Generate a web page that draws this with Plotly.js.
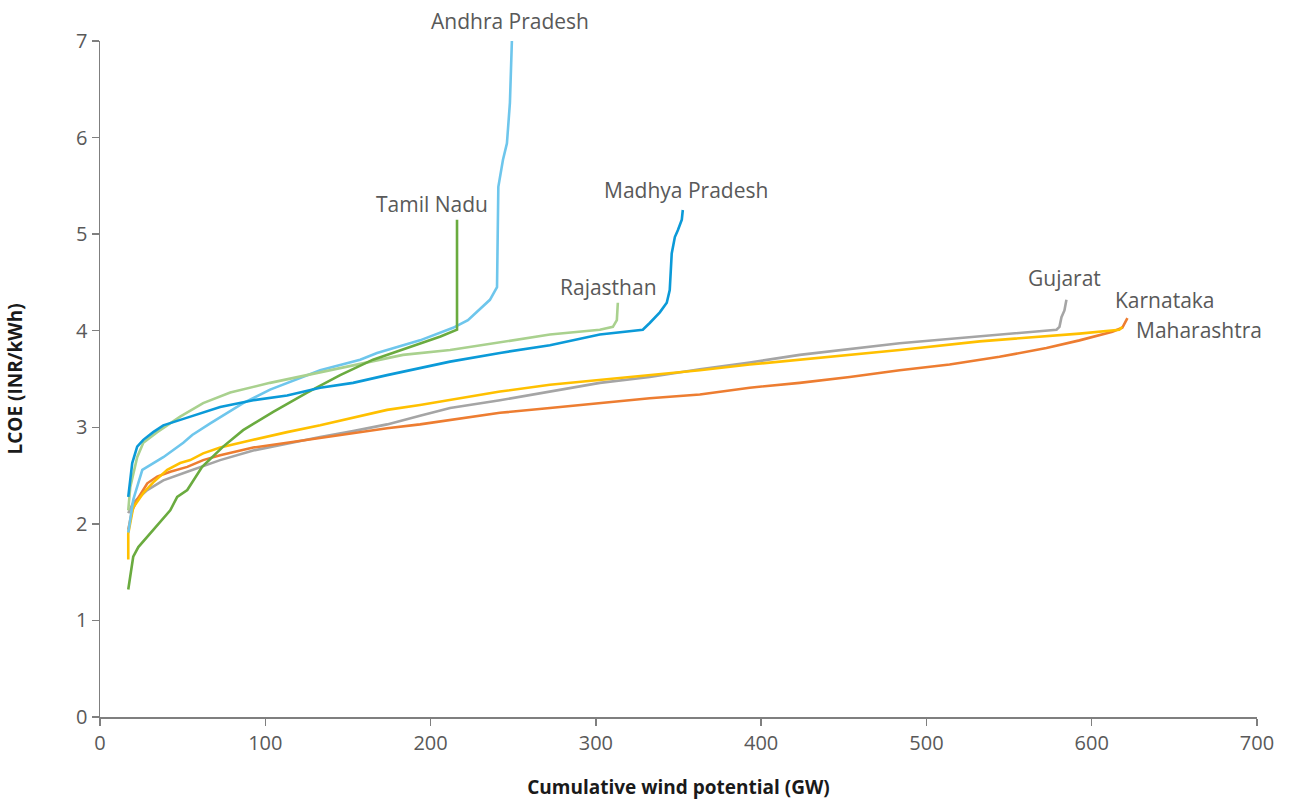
<!DOCTYPE html>
<html>
<head>
<meta charset="utf-8">
<script src="https://cdn.plot.ly/plotly-3.0.1.min.js"></script>
<style>html,body{margin:0;padding:0;background:#fff;}#chart{width:1291px;height:800px;}</style>
</head>
<body>
<div id="chart"></div>
<script>
// Cumulative wind potential (GW) and LCOE (INR/kWh)
const gujaratX = [17.1, 20.1, 28.6, 38.3, 52.8, 72.7, 92.7, 113.2, 133.2, 153.1, 173.7, 193.6, 211.8, 242.0, 272.2, 302.4, 332.6, 362.9, 393.1, 423.3, 483.8, 544.2, 578.7, 580.5, 581.7, 583.5, 584.7];
const gujaratY = [2.11, 2.22, 2.35, 2.45, 2.54, 2.66, 2.76, 2.83, 2.90, 2.96, 3.03, 3.12, 3.20, 3.28, 3.37, 3.46, 3.52, 3.60, 3.67, 3.75, 3.87, 3.96, 4.01, 4.04, 4.14, 4.21, 4.32];

const maharashtraX = [17.1, 19.5, 22.5, 28.6, 34.6, 42.5, 52.8, 62.4, 72.7, 92.7, 113.2, 133.2, 153.1, 173.7, 193.6, 223.8, 242.0, 272.2, 302.4, 332.6, 362.9, 393.1, 423.3, 453.6, 483.8, 514.0, 544.2, 572.6, 592.6, 612.5, 618.5, 621.0, 621.6];
const maharashtraY = [1.94, 2.14, 2.25, 2.42, 2.49, 2.54, 2.59, 2.66, 2.71, 2.79, 2.84, 2.89, 2.94, 2.99, 3.03, 3.10, 3.15, 3.20, 3.25, 3.30, 3.34, 3.41, 3.46, 3.52, 3.59, 3.65, 3.73, 3.82, 3.90, 3.99, 4.03, 4.11, 4.13];

const karnatakaX = [17.1, 17.1, 20.1, 26.2, 32.2, 40.7, 48.5, 54.6, 62.4, 72.7, 92.7, 113.2, 133.2, 153.1, 173.7, 193.6, 211.8, 242.0, 272.2, 302.4, 332.6, 362.9, 393.1, 423.3, 483.8, 532.2, 572.6, 592.6, 616.7, 618.5];
const karnatakaY = [1.63, 1.90, 2.17, 2.32, 2.43, 2.56, 2.63, 2.66, 2.73, 2.79, 2.87, 2.95, 3.02, 3.10, 3.18, 3.23, 3.28, 3.37, 3.44, 3.49, 3.54, 3.59, 3.65, 3.70, 3.80, 3.89, 3.94, 3.97, 4.01, 4.04];

const andhraX = [17.1, 20.1, 25.6, 38.3, 50.4, 55.8, 66.7, 86.6, 102.9, 133.2, 157.4, 167.6, 193.6, 213.6, 222.6, 231.7, 235.9, 240.2, 240.6, 241.0, 243.8, 246.2, 248.0, 249.2];
const andhraY = [1.91, 2.25, 2.56, 2.69, 2.84, 2.92, 3.04, 3.25, 3.39, 3.59, 3.70, 3.77, 3.90, 4.03, 4.11, 4.25, 4.32, 4.45, 4.80, 5.49, 5.77, 5.94, 6.36, 7.00];

const rajasthanX = [17.1, 18.3, 22.5, 26.2, 34.6, 48.5, 62.4, 78.8, 102.9, 133.2, 153.1, 183.3, 211.8, 242.0, 272.2, 302.4, 310.3, 312.7, 313.3];
const rajasthanY = [2.14, 2.38, 2.69, 2.84, 2.95, 3.11, 3.25, 3.36, 3.46, 3.57, 3.64, 3.75, 3.80, 3.88, 3.96, 4.01, 4.04, 4.11, 4.29];

const tamilNaduX = [17.1, 20.1, 23.2, 32.2, 42.5, 46.7, 52.8, 61.8, 74.5, 86.6, 104.8, 125.3, 145.3, 165.2, 193.6, 206.0, 216.0, 216.0];
const tamilNaduY = [1.32, 1.66, 1.76, 1.94, 2.14, 2.28, 2.35, 2.59, 2.80, 2.97, 3.16, 3.36, 3.54, 3.70, 3.87, 3.94, 4.01, 5.15];

const madhyaX = [17.1, 19.5, 22.5, 26.2, 32.2, 38.3, 52.8, 72.7, 92.7, 113.2, 133.2, 153.1, 173.7, 193.6, 211.8, 242.0, 272.2, 302.4, 328.4, 332.6, 338.7, 342.9, 344.7, 345.9, 347.8, 349.6, 352.0, 352.6];
const madhyaY = [2.28, 2.63, 2.80, 2.87, 2.95, 3.02, 3.10, 3.21, 3.28, 3.33, 3.41, 3.46, 3.54, 3.61, 3.68, 3.77, 3.85, 3.96, 4.01, 4.08, 4.19, 4.29, 4.42, 4.80, 4.97, 5.04, 5.15, 5.25];

const stateNames = ["Gujarat", "Maharashtra", "Karnataka", "Andhra Pradesh", "Rajasthan", "Tamil Nadu", "Madhya Pradesh"];
const stateColors = ["#A5A5A5", "#ED7D31", "#FFC000", "#6EC6EC", "#A9D18E", "#6AAB3F", "#0B9AD8"];
const labelX = [583.5, 665.2, 644.6, 248.0, 307.9, 200.9, 354.5];
const labelY = [4.55, 4.01, 4.32, 7.21, 4.45, 5.31, 5.46];

const xs = [gujaratX, maharashtraX, karnatakaX, andhraX, rajasthanX, tamilNaduX, madhyaX];
const ys = [gujaratY, maharashtraY, karnatakaY, andhraY, rajasthanY, tamilNaduY, madhyaY];

const traces = stateNames.map((n, i) => ({
  type: "scatter", mode: "lines", name: n, x: xs[i], y: ys[i],
  line: {color: stateColors[i], width: 2.6}, hoverinfo: "x+y+name"
}));

// labels above the y range are positioned in paper units so they are not hidden
const annotations = stateNames.map((n, i) => {
  const above = labelY[i] > 7;
  return {
    x: labelX[i], xref: "x",
    y: above ? 1 + (labelY[i] - 7) / 7 : labelY[i], yref: above ? "paper" : "y",
    text: n, showarrow: false, xanchor: "center", yanchor: "middle",
    font: {family: "Open Sans, sans-serif", size: 21, color: "#595959"}
  };
});

const layout = {
  width: 1291, height: 800,
  margin: {l: 100, r: 34, t: 41, b: 83},
  paper_bgcolor: "#fff", plot_bgcolor: "#fff",
  showlegend: false,
  font: {family: "Open Sans, sans-serif", size: 20, color: "#595959"},
  xaxis: {
    range: [0, 700], dtick: 100, tick0: 0, showgrid: false, zeroline: false,
    showline: true, linecolor: "#7F7F7F", linewidth: 1.5,
    ticks: "outside", ticklen: 7, tickcolor: "#7F7F7F", tickwidth: 1.5,
    tickfont: {family: "Open Sans, sans-serif", size: 20, color: "#595959"},
    title: {text: "Cumulative wind potential (GW)", standoff: 28,
            font: {family: "Open Sans, sans-serif", size: 19, color: "#1A1A1A", weight: "bold"}}
  },
  yaxis: {
    range: [0, 7], dtick: 1, tick0: 0, showgrid: false, zeroline: false,
    showline: true, linecolor: "#7F7F7F", linewidth: 1.5,
    ticks: "outside", ticklen: 7, tickcolor: "#7F7F7F", tickwidth: 1.5,
    tickfont: {family: "Open Sans, sans-serif", size: 20, color: "#595959"},
    title: {text: "LCOE (INR/kWh)", standoff: 48,
            font: {family: "Open Sans, sans-serif", size: 19, color: "#1A1A1A", weight: "bold"}}
  },
  annotations: annotations
};

Plotly.newPlot("chart", traces, layout, {displayModeBar: false, staticPlot: true});
</script>
</body>
</html>
